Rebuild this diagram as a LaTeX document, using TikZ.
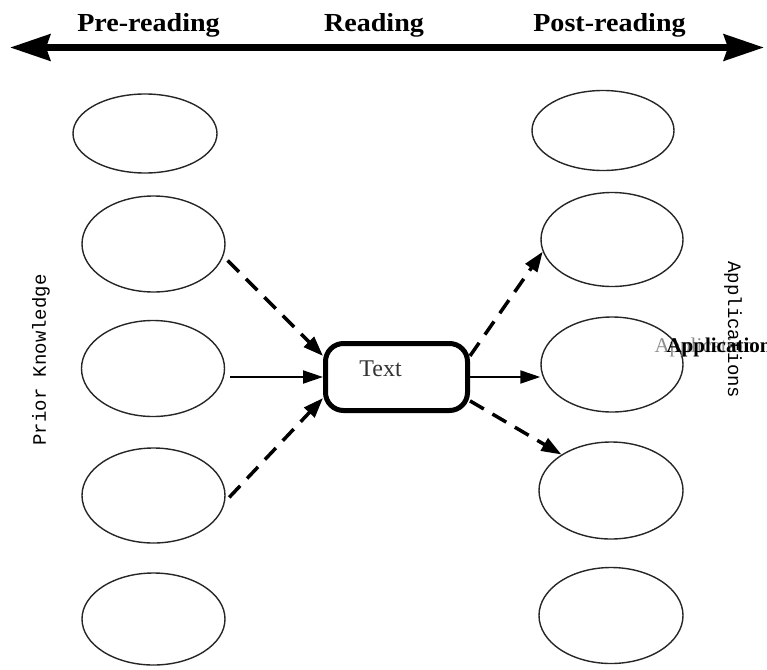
\documentclass[tikz,border=0pt]{standalone}
\usepackage{fontspec}
\setmainfont{Liberation Serif}
\newfontfamily\sidefont{Liberation Mono}
\usetikzlibrary{arrows.meta,shapes.geometric}
\begin{document}
\begin{tikzpicture}[x=1pt,y=-1pt,
  bubble/.style={draw=black!85, line width=1.4pt, ellipse, inner sep=0pt},
  hdr/.style={font=\fontsize{26}{28}\selectfont\bfseries, anchor=base, xscale=1.08},
  dasharrow/.style={line width=3.5pt, dash pattern=on 16pt off 10pt, -{Triangle[length=20pt,width=14pt]}},
  solidarrow/.style={line width=2pt, -{Triangle[length=20pt,width=13pt]}},
  side/.style={font=\sidefont\fontsize{19}{21}\selectfont},
  textbox/.style={draw=black, line width=5pt, rounded corners=18pt, minimum width=142pt, minimum height=67pt, inner sep=0pt}
]
\useasboundingbox (0,0) rectangle (767,669);

% header axis
\coordinate (hl) at (10,47.5);
\coordinate (hr) at (764,47.5);
\draw[line width=7pt, {Stealth[length=40pt,width=26pt,inset=4pt]}-{Stealth[length=40pt,width=26pt,inset=4pt]}] (hl) -- (hr);
\node[hdr] (pre) at (148.5,32) {Pre-reading};
\node[hdr] (rd) at (374,32) {Reading};
\node[hdr] (post) at (609.5,32) {Post-reading};

% left column
\node[bubble, minimum width=144pt, minimum height=79pt] (l1) at (145,133.5) {};
\node[bubble, minimum width=143pt, minimum height=96pt] (l2) at (153.5,244) {};
\node[bubble, minimum width=143pt, minimum height=96pt] (l3) at (153,368.5) {};
\node[bubble, minimum width=143pt, minimum height=95pt] (l4) at (153.5,495.5) {};
\node[bubble, minimum width=143pt, minimum height=92pt] (l5) at (153.5,619) {};

% right column
\node[bubble, minimum width=142pt, minimum height=80pt] (r1) at (603,130.5) {};
\node[bubble, minimum width=142pt, minimum height=94pt] (r2) at (612,239.5) {};
\node[bubble, minimum width=142pt, minimum height=95pt] (r3) at (612,364.5) {};
\node[bubble, minimum width=144pt, minimum height=97pt] (r4) at (611,490.5) {};
\node[bubble, minimum width=144pt, minimum height=96pt] (r5) at (611,615.5) {};

% central text box
\node[textbox] (t) at (396.5,377) {};
\node[anchor=base, text=black!80, font=\fontsize{24}{26}\selectfont] (tl) at (380.5,376) {Text};

% side labels
\node[side, rotate=90] (pk) at (41,360) {Prior Knowledge};
\node[side, rotate=-90] (apps) at (733,330) {Applications};
\node[anchor=base west, text=black!45, font=\fontsize{21}{23}\selectfont] (ap1) at (651,352) {Application};
\node[anchor=base west, font=\fontsize{21}{23}\selectfont\bfseries] (ap2) at (663,352) {Application};

% connectors
\draw[dasharrow, shorten <=6pt] (l2.-10) -- (t.164);
\draw[solidarrow, shorten <=5pt] (l3.east |- t.west) -- (t.west);
\draw[dasharrow, shorten <=6pt] (l4.-5) -- (t.196);
\draw[dasharrow] (t.16) -- (r2.190);
\draw[solidarrow] (t.east) -- (r3.west |- t.east);
\draw[dasharrow] (t.-18) -- (r4.144);
\end{tikzpicture}
\end{document}
